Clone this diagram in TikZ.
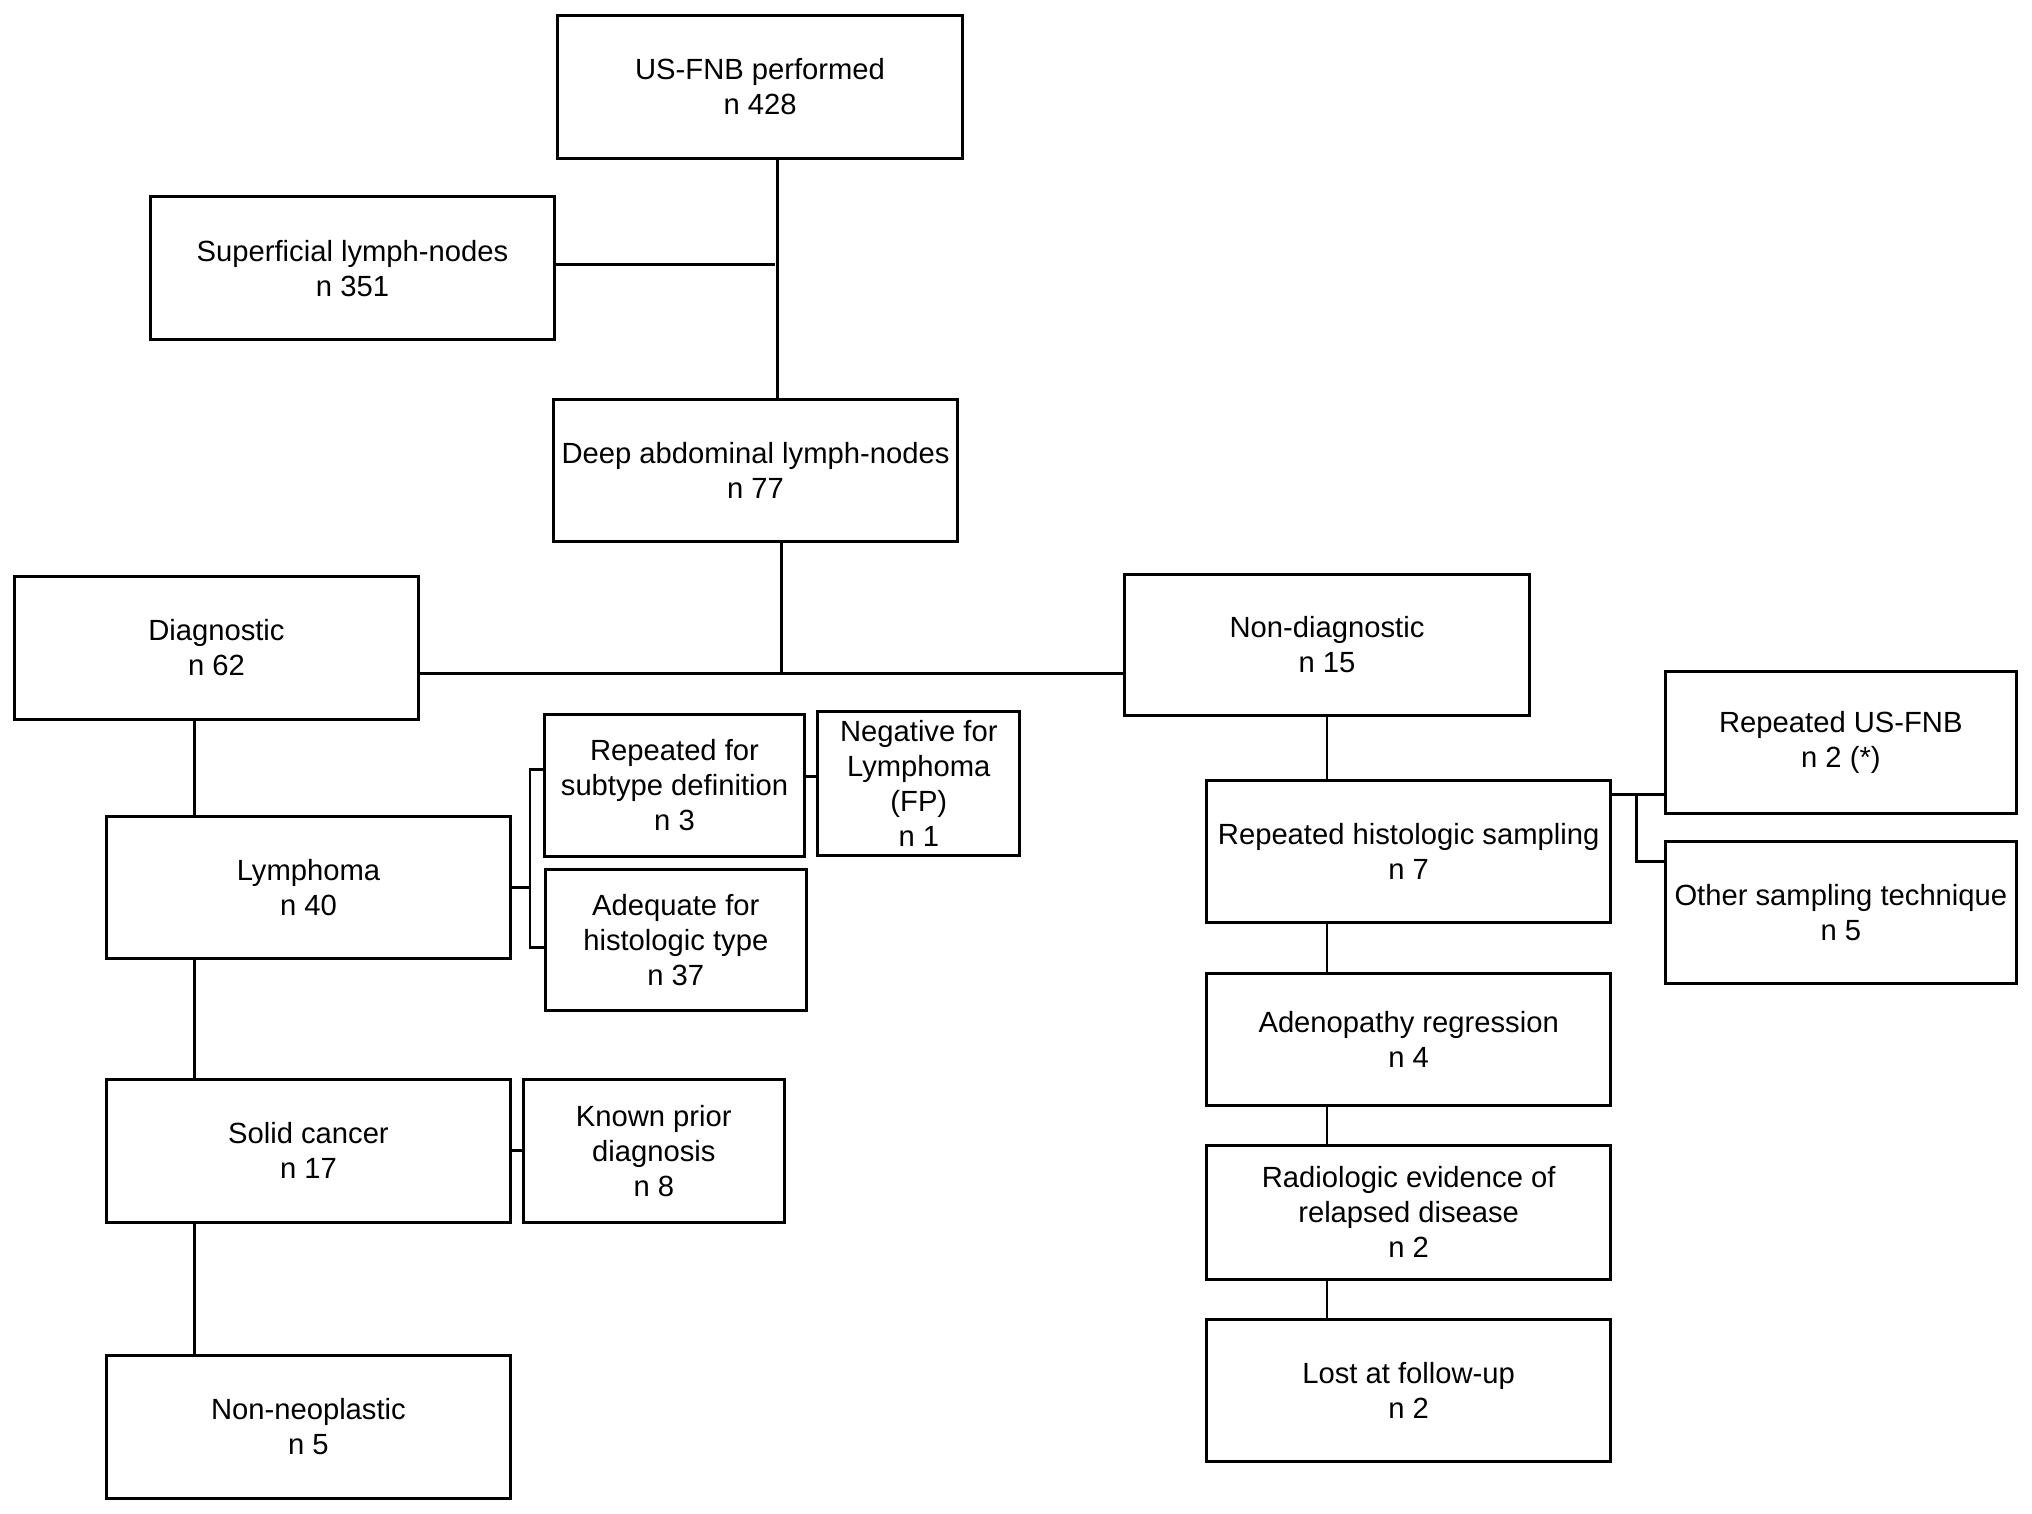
\documentclass[tikz,border=0pt]{standalone}
\usepackage{fontspec}
\setmainfont{Liberation Sans}
\begin{document}
\begin{tikzpicture}[x=0.648pt,y=-0.648pt,
  box/.style 2 args={draw=black, line width=1.5pt, rectangle, inner sep=0pt,
    minimum width=#1*0.648pt, minimum height=#2*0.648pt, align=center,
    font=\fontsize{14.6pt}{17.5pt}\selectfont},
  conn/.style={draw=black, line width=1.4pt}]
\useasboundingbox[fill=white] (0,0) rectangle (1568,1168);
% nodes
\node[box={313}{110}] (A) at (586.5,67) {US-FNB performed\\n 428};
\node[box={312}{110}] (sup) at (272,207) {Superficial lymph-nodes\\n 351};
\node[box={312}{110}] (deep) at (583,363) {Deep abdominal lymph-nodes\\n 77};
\node[box={312}{110}] (diag) at (167,500) {Diagnostic\\n 62};
\node[box={312}{109}] (nondiag) at (1024,497.5) {Non-diagnostic\\n 15};
\node[box={312}{110}] (lymph) at (238,685) {Lymphoma\\n 40};
\node[box={312}{110}] (solid) at (238,888) {Solid cancer\\n 17};
\node[box={312}{110}] (nonneo) at (238,1101) {Non-neoplastic\\n 5};
\node[box={201}{110}] (known) at (504.5,888) {Known prior\\diagnosis\\n 8};
\node[box={201}{110}] (repsub) at (520.5,606) {Repeated for\\subtype definition\\n 3};
\node[box={156}{111}] (neg) at (709,604.5) {Negative for\\Lymphoma\\(FP)\\n 1};
\node[box={201}{109}] (adeq) at (521.5,725.5) {Adequate for\\histologic type\\n 37};
\node[box={312}{110}] (rephist) at (1087,657) {Repeated histologic sampling\\n 7};
\node[box={312}{102}] (adeno) at (1087,802) {Adenopathy regression\\n 4};
\node[box={312}{103}] (radio) at (1087,935.5) {Radiologic evidence of\\relapsed disease\\n 2};
\node[box={312}{110}] (lost) at (1087,1073) {Lost at follow-up\\n 2};
\node[box={271}{110}] (repus) at (1420.5,573) {Repeated US-FNB\\n 2 (*)};
\node[box={271}{110}] (other) at (1420.5,704) {Other sampling technique\\n 5};
% helper coordinates
\coordinate (xa) at (600,0);
\coordinate (supend) at (598,204);
\coordinate (xd) at (603,520);
\coordinate (xl) at (150,0);
\coordinate (br) at (409,0);
\coordinate (yb1) at (0,594);
\coordinate (yb2) at (0,731);
\coordinate (yn) at (0,599);
\coordinate (yr) at (0,613);
\coordinate (xr) at (1263,0);
\coordinate (yo) at (0,665);
% connectors
\draw[conn] (A.south -| xa) -- (deep.north -| xa);
\draw[conn] (sup.east |- supend) -- (supend);
\draw[conn] (deep.south -| xd) -- (xd);
\draw[conn] (diag.east |- xd) -- (nondiag.west |- xd);
\draw[conn] (diag.south -| xl) -- (lymph.north -| xl);
\draw[conn] (lymph.south -| xl) -- (solid.north -| xl);
\draw[conn] (solid.south -| xl) -- (nonneo.north -| xl);
\draw[conn] (solid.east) -- (known.west);
\draw[conn] (lymph.east) -- (br |- lymph.east);
\draw[conn] (repsub.west |- yb1) -- (br |- yb1) -- (br |- yb2) -- (adeq.west |- yb2);
\draw[conn] (repsub.east |- yn) -- (neg.west |- yn);
\draw[conn] (nondiag.south) -- (rephist.north -| nondiag.south);
\draw[conn] (rephist.south -| nondiag.south) -- (adeno.north -| nondiag.south);
\draw[conn] (adeno.south -| nondiag.south) -- (radio.north -| nondiag.south);
\draw[conn] (radio.south -| nondiag.south) -- (lost.north -| nondiag.south);
\draw[conn] (rephist.east |- yr) -- (repus.west |- yr);
\draw[conn] (xr |- yr) -- (xr |- yo) -- (other.west |- yo);
\end{tikzpicture}
\end{document}
